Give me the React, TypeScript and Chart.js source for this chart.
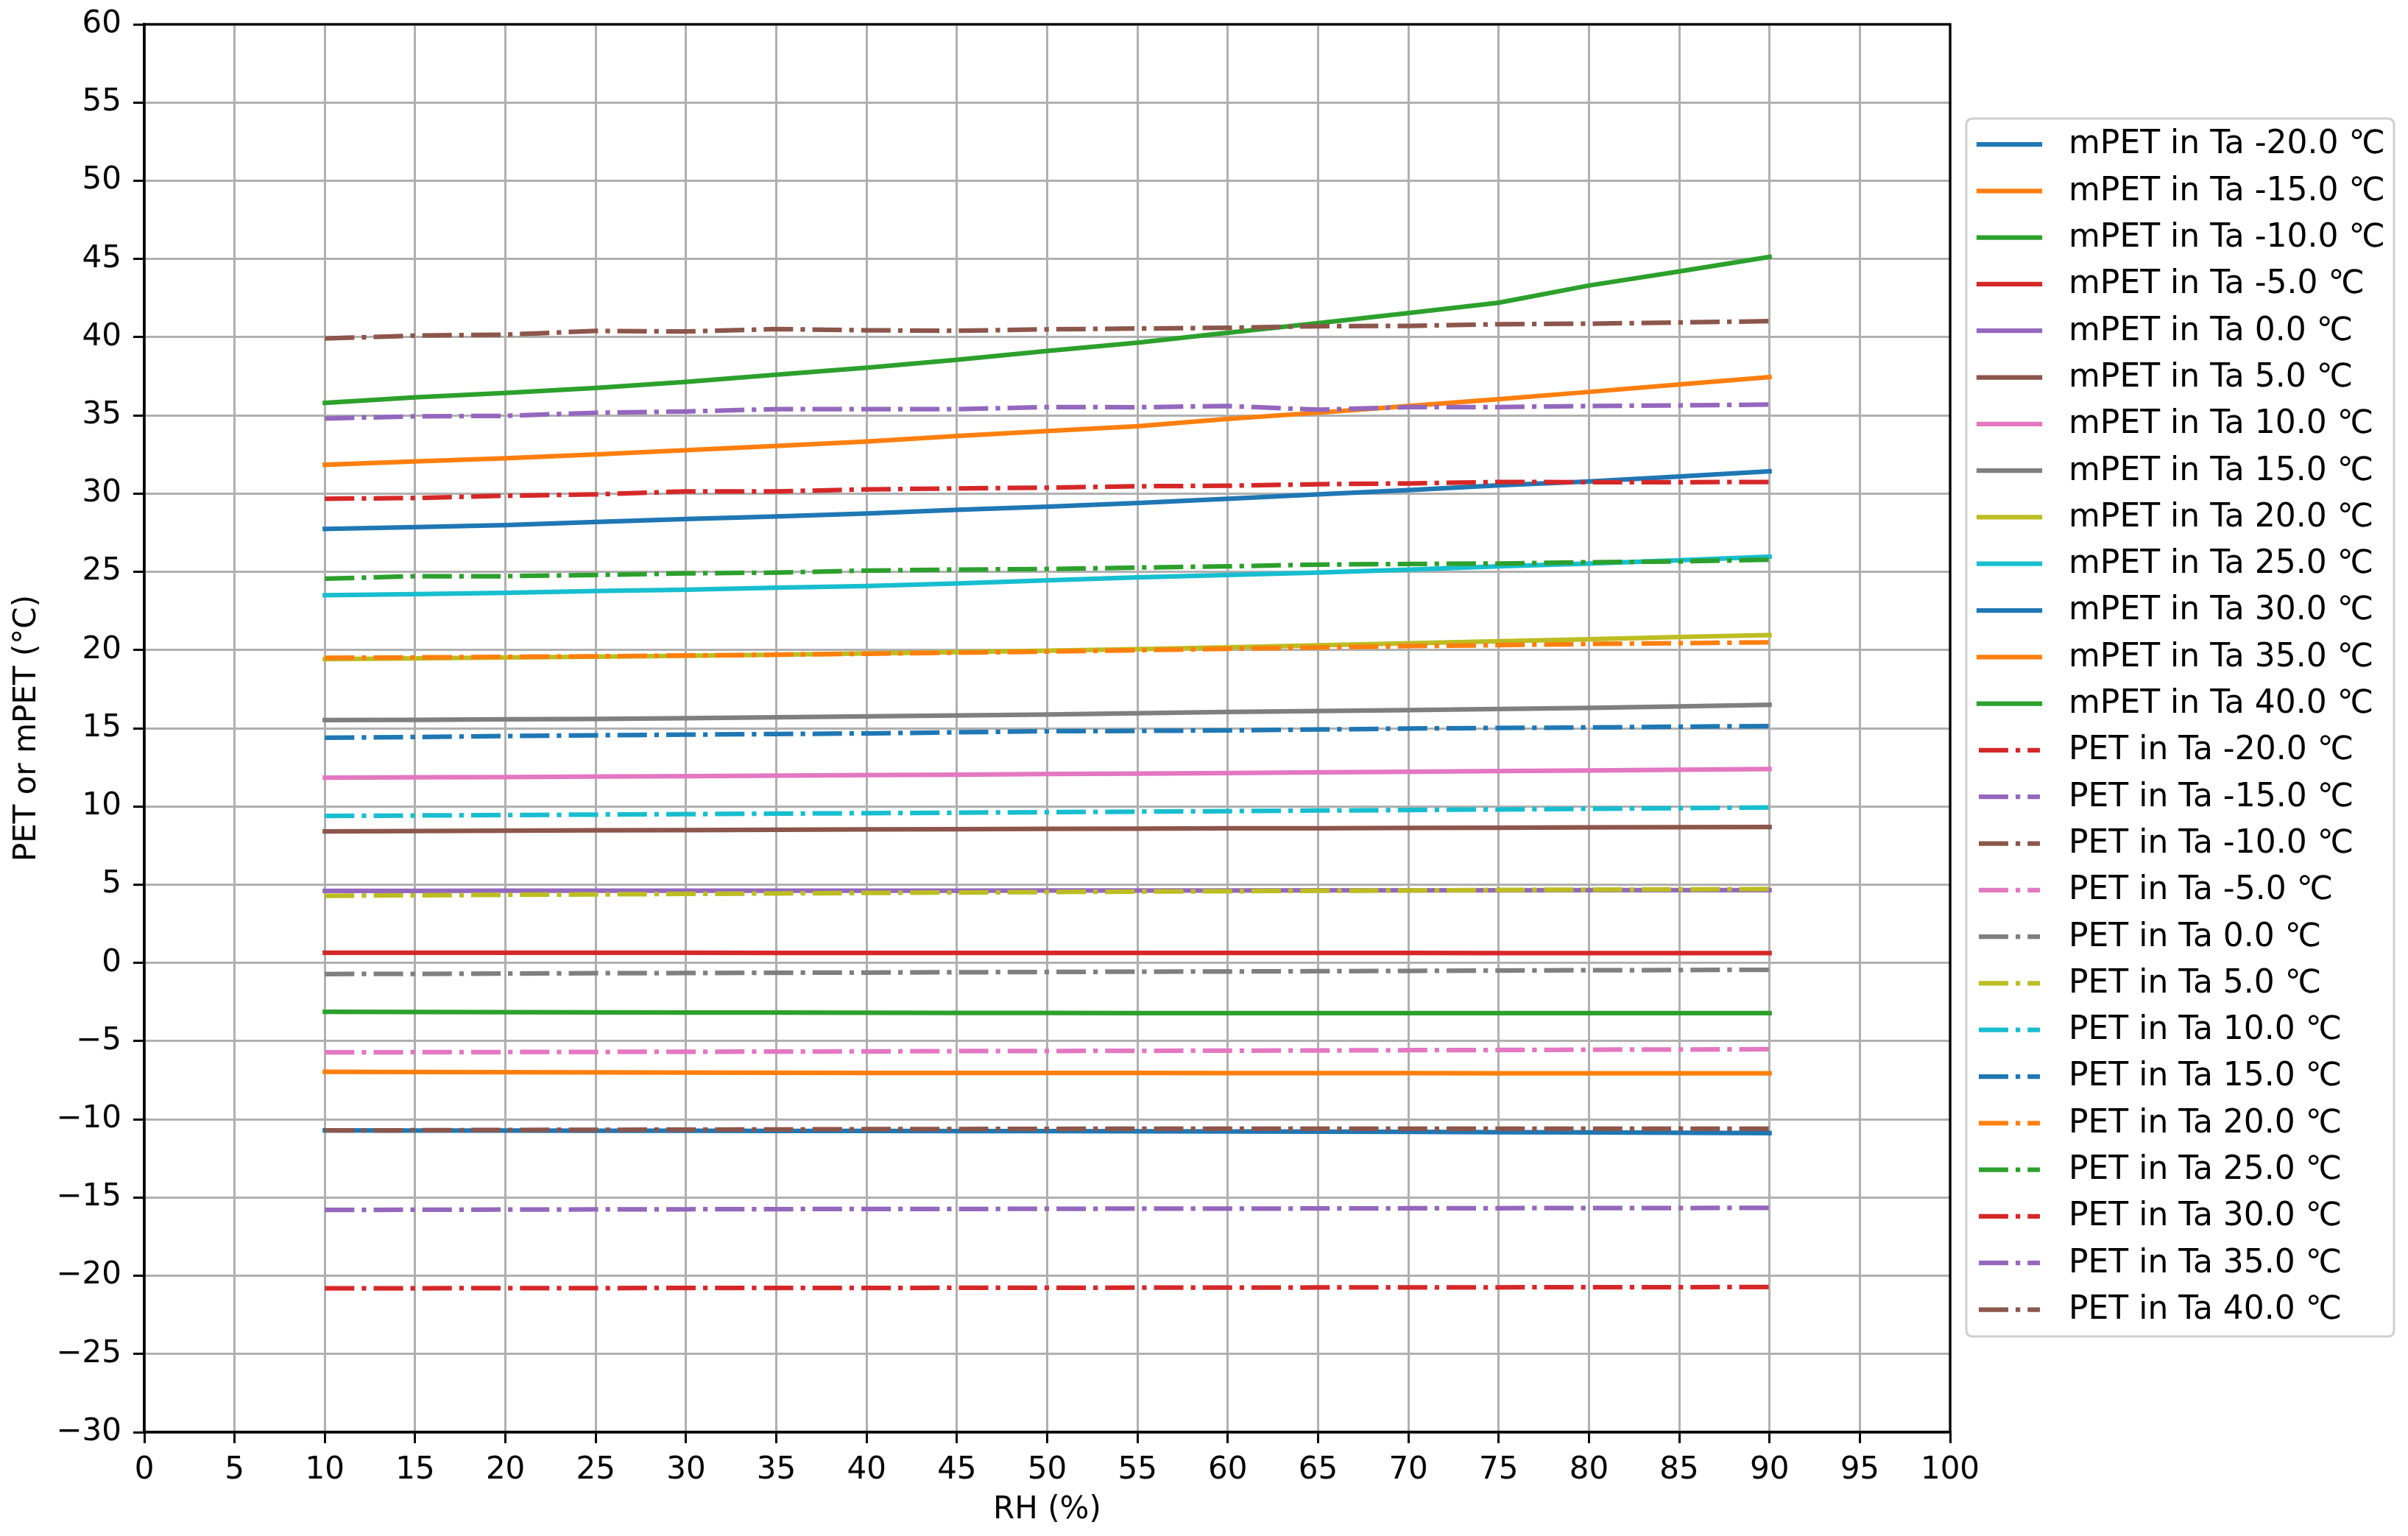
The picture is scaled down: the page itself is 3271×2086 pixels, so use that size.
import React, { useEffect, useRef } from "react";
import { Chart, registerables } from "chart.js";

Chart.register(...registerables);

// ---------- data ----------
const RH = [10, 15, 20, 25, 30, 35, 40, 45, 50, 55, 60, 65, 70, 75, 80, 85, 90];
const TA = [-20, -15, -10, -5, 0, 5, 10, 15, 20, 25, 30, 35, 40];
const X_TICKS = [0, 5, 10, 15, 20, 25, 30, 35, 40, 45, 50, 55, 60, 65, 70, 75, 80, 85, 90, 95, 100];
const Y_TICKS = [-30, -25, -20, -15, -10, -5, 0, 5, 10, 15, 20, 25, 30, 35, 40, 45, 50, 55, 60];

const MPET_M20 = [-10.71, -10.72, -10.72, -10.73, -10.73, -10.74, -10.74, -10.75, -10.75, -10.76, -10.78, -10.79, -10.8, -10.82, -10.84, -10.86, -10.88];
const MPET_M15 = [-6.97, -6.98, -6.99, -7.0, -7.01, -7.02, -7.03, -7.03, -7.04, -7.04, -7.05, -7.05, -7.05, -7.06, -7.06, -7.06, -7.06];
const MPET_M10 = [-3.13, -3.14, -3.15, -3.16, -3.17, -3.18, -3.19, -3.2, -3.2, -3.21, -3.21, -3.21, -3.21, -3.21, -3.21, -3.21, -3.21];
const MPET_M5 = [0.65, 0.65, 0.65, 0.65, 0.65, 0.64, 0.64, 0.64, 0.64, 0.64, 0.64, 0.64, 0.64, 0.63, 0.63, 0.63, 0.63];
const MPET_0 = [4.6, 4.6, 4.61, 4.61, 4.61, 4.62, 4.62, 4.62, 4.63, 4.63, 4.63, 4.64, 4.64, 4.64, 4.65, 4.65, 4.65];
const MPET_5 = [8.41, 8.43, 8.45, 8.47, 8.49, 8.51, 8.53, 8.55, 8.57, 8.58, 8.6, 8.61, 8.63, 8.64, 8.66, 8.67, 8.69];
const MPET_10 = [11.84, 11.86, 11.88, 11.91, 11.94, 11.97, 12.0, 12.03, 12.07, 12.1, 12.14, 12.18, 12.22, 12.26, 12.3, 12.35, 12.39];
const MPET_15 = [15.52, 15.54, 15.57, 15.6, 15.64, 15.7, 15.76, 15.82, 15.88, 15.96, 16.04, 16.1, 16.16, 16.23, 16.3, 16.4, 16.5];
const MPET_20 = [19.42, 19.47, 19.52, 19.57, 19.63, 19.7, 19.78, 19.87, 19.96, 20.06, 20.17, 20.3, 20.43, 20.56, 20.69, 20.83, 20.96];
const MPET_25 = [23.5, 23.57, 23.66, 23.77, 23.85, 23.98, 24.09, 24.25, 24.45, 24.64, 24.8, 24.95, 25.14, 25.35, 25.53, 25.74, 25.97];
const MPET_30 = [27.74, 27.86, 27.99, 28.18, 28.37, 28.54, 28.73, 28.96, 29.16, 29.4, 29.67, 29.95, 30.22, 30.53, 30.77, 31.09, 31.43];
const MPET_35 = [31.84, 32.06, 32.26, 32.5, 32.77, 33.05, 33.33, 33.68, 34.0, 34.3, 34.78, 35.17, 35.6, 36.04, 36.5, 36.98, 37.45];
const MPET_40 = [35.8, 36.15, 36.43, 36.75, 37.14, 37.6, 38.05, 38.55, 39.12, 39.65, 40.28, 40.9, 41.54, 42.2, 43.3, 44.2, 45.13];

const PET_M20 = [-20.8, -20.8, -20.79, -20.79, -20.78, -20.78, -20.78, -20.77, -20.77, -20.76, -20.76, -20.75, -20.75, -20.74, -20.73, -20.73, -20.72];
const PET_M15 = [-15.79, -15.78, -15.77, -15.76, -15.75, -15.74, -15.73, -15.73, -15.72, -15.71, -15.71, -15.7, -15.69, -15.68, -15.67, -15.67, -15.66];
const PET_M10 = [-10.71, -10.7, -10.68, -10.67, -10.66, -10.65, -10.63, -10.62, -10.61, -10.6, -10.6, -10.6, -10.6, -10.6, -10.6, -10.6, -10.6];
const PET_M5 = [-5.72, -5.71, -5.7, -5.69, -5.68, -5.67, -5.66, -5.64, -5.63, -5.62, -5.61, -5.6, -5.58, -5.57, -5.55, -5.54, -5.52];
const PET_0 = [-0.71, -0.7, -0.68, -0.66, -0.65, -0.63, -0.62, -0.6, -0.58, -0.56, -0.55, -0.53, -0.51, -0.49, -0.47, -0.46, -0.44];
const PET_5 = [4.29, 4.32, 4.35, 4.38, 4.41, 4.44, 4.47, 4.5, 4.53, 4.56, 4.58, 4.61, 4.63, 4.66, 4.68, 4.7, 4.72];
const PET_10 = [9.39, 9.42, 9.45, 9.48, 9.51, 9.54, 9.57, 9.6, 9.63, 9.67, 9.7, 9.74, 9.77, 9.81, 9.85, 9.89, 9.94];
const PET_15 = [14.39, 14.44, 14.5, 14.55, 14.59, 14.63, 14.67, 14.74, 14.81, 14.83, 14.86, 14.92, 14.98, 15.02, 15.05, 15.1, 15.14];
const PET_20 = [19.5, 19.53, 19.56, 19.6, 19.65, 19.7, 19.76, 19.83, 19.9, 19.99, 20.08, 20.16, 20.25, 20.31, 20.39, 20.44, 20.49];
const PET_25 = [24.56, 24.72, 24.72, 24.8, 24.9, 24.95, 25.08, 25.14, 25.18, 25.27, 25.35, 25.46, 25.5, 25.53, 25.61, 25.66, 25.77];
const PET_30 = [29.67, 29.72, 29.86, 29.95, 30.14, 30.14, 30.27, 30.33, 30.38, 30.47, 30.5, 30.6, 30.65, 30.74, 30.73, 30.73, 30.74];
const PET_35 = [34.8, 34.94, 34.97, 35.17, 35.25, 35.4, 35.4, 35.4, 35.53, 35.52, 35.6, 35.36, 35.53, 35.53, 35.6, 35.64, 35.69];
const PET_40 = [39.92, 40.1, 40.16, 40.4, 40.36, 40.52, 40.44, 40.41, 40.5, 40.55, 40.6, 40.7, 40.72, 40.83, 40.86, 40.94, 41.02];

const MPET_SERIES = [MPET_M20, MPET_M15, MPET_M10, MPET_M5, MPET_0, MPET_5, MPET_10, MPET_15, MPET_20, MPET_25, MPET_30, MPET_35, MPET_40];
const PET_SERIES = [PET_M20, PET_M15, PET_M10, PET_M5, PET_0, PET_5, PET_10, PET_15, PET_20, PET_25, PET_30, PET_35, PET_40];

const TAB10 = ["#1f77b4", "#ff7f0e", "#2ca02c", "#d62728", "#9467bd", "#8c564b", "#e377c2", "#7f7f7f", "#bcbd22", "#17becf"];

// ---------- style ----------
const FONT = "DejaVu Sans";
const FS = 42;
const LEGEND_FS = 44;
const LW = 6.25;
const DASHDOT = [40, 10, 6.25, 10];

const fmt = (v: number) => (v < 0 ? "\u2212" + Math.abs(v) : String(v));

const frameLegendPlugin = {
  id: "frameLegend",
  afterDraw(chart: any) {
    const { ctx, chartArea } = chart;
    ctx.save();
    // spines on all four sides
    ctx.setLineDash([]);
    ctx.strokeStyle = "#000";
    ctx.lineWidth = 3.3;
    ctx.strokeRect(chartArea.left, chartArea.top, chartArea.right - chartArea.left, chartArea.bottom - chartArea.top);

    // legend box
    const L = 2671, T = 161, R = 3252, B = 1815, r = 9;
    ctx.beginPath();
    ctx.moveTo(L + r, T);
    ctx.lineTo(R - r, T);
    ctx.quadraticCurveTo(R, T, R, T + r);
    ctx.lineTo(R, B - r);
    ctx.quadraticCurveTo(R, B, R - r, B);
    ctx.lineTo(L + r, B);
    ctx.quadraticCurveTo(L, B, L, B - r);
    ctx.lineTo(L, T + r);
    ctx.quadraticCurveTo(L, T, L + r, T);
    ctx.closePath();
    ctx.fillStyle = "rgba(255,255,255,0.8)";
    ctx.fill();
    ctx.strokeStyle = "#d0d0d0";
    ctx.lineWidth = 3;
    ctx.stroke();

    const rowY0 = 196;
    const pitch = 63.3;
    chart.data.datasets.forEach((ds: any, i: number) => {
      const y = rowY0 + i * pitch;
      ctx.beginPath();
      ctx.setLineDash(ds.borderDash || []);
      ctx.lineCap = ds.borderCapStyle || "butt";
      ctx.strokeStyle = ds.borderColor;
      ctx.lineWidth = ds.borderWidth;
      ctx.moveTo(2688, y);
      ctx.lineTo(2771, y);
      ctx.stroke();
      ctx.setLineDash([]);
      ctx.fillStyle = "#000";
      ctx.font = `${LEGEND_FS}px "${FONT}"`;
      ctx.textAlign = "left";
      ctx.textBaseline = "middle";
      ctx.fillText(ds.label, 2810, y + 1);
    });
    ctx.restore();
  },
};

export default function App() {
  const ref = useRef<HTMLCanvasElement | null>(null);

  useEffect(() => {
    document.body.style.margin = "0";
    const canvas = ref.current;
    if (!canvas) return;

    const datasets: any[] = [];
    const N = TA.length * 2;
    TA.forEach((ta, i) => {
      datasets.push({
        label: `mPET in Ta ${ta.toFixed(1)} \u2103`,
        data: RH.map((x, k) => ({ x, y: MPET_SERIES[i][k] })),
        borderColor: TAB10[i % 10],
        backgroundColor: TAB10[i % 10],
        borderWidth: LW,
        borderDash: [],
        borderCapStyle: "square",
        borderJoinStyle: "round",
        pointRadius: 0,
        tension: 0,
        fill: false,
        order: N - 1 - i,
      });
    });
    TA.forEach((ta, i) => {
      const j = i + TA.length;
      datasets.push({
        label: `PET in Ta ${ta.toFixed(1)} \u2103`,
        data: RH.map((x, k) => ({ x, y: PET_SERIES[i][k] })),
        borderColor: TAB10[j % 10],
        backgroundColor: TAB10[j % 10],
        borderWidth: LW,
        borderDash: DASHDOT,
        borderCapStyle: "butt",
        borderJoinStyle: "round",
        pointRadius: 0,
        tension: 0,
        fill: false,
        order: N - 1 - j,
      });
    });

    const tickFont = { family: FONT, size: FS };

    const chart = new Chart(canvas, {
      type: "line",
      data: { datasets },
      options: {
        responsive: false,
        animation: false,
        devicePixelRatio: 1,
        layout: { padding: { left: 0, top: 33, right: 622, bottom: 0 } },
        plugins: {
          legend: { display: false },
          tooltip: { enabled: false },
          title: { display: false },
        },
        scales: {
          x: {
            type: "linear",
            min: 0,
            max: 100,
            afterFit: (s: any) => {
              s.height = 141;
              s.paddingLeft = 0;
              s.paddingRight = 0;
            },
            afterBuildTicks: (s: any) => {
              s.ticks = X_TICKS.map((v) => ({ value: v }));
            },
            ticks: {
              color: "#000",
              font: tickFont,
              padding: 12,
              maxRotation: 0,
              autoSkip: false,
              callback: (v: any) => fmt(Number(v)),
            },
            grid: {
              color: "#b0b0b0",
              lineWidth: 3,
              drawTicks: true,
              tickLength: 15,
              tickColor: "#000",
              tickWidth: 3,
            },
            border: { display: true, color: "#000", width: 3.3 },
            title: {
              display: true,
              text: "RH (%)",
              color: "#000",
              font: { family: FONT, size: FS },
              padding: { top: 0, bottom: 10 },
            },
          },
          y: {
            type: "linear",
            min: -30,
            max: 60,
            afterFit: (s: any) => {
              s.width = 196;
              s.paddingTop = 0;
              s.paddingBottom = 0;
            },
            afterBuildTicks: (s: any) => {
              s.ticks = Y_TICKS.map((v) => ({ value: v }));
            },
            ticks: {
              color: "#000",
              font: tickFont,
              padding: 16,
              autoSkip: false,
              callback: (v: any) => fmt(Number(v)),
            },
            grid: {
              color: "#b0b0b0",
              lineWidth: 3,
              drawTicks: true,
              tickLength: 15,
              tickColor: "#000",
              tickWidth: 3,
            },
            border: { display: true, color: "#000", width: 3.3 },
            title: {
              display: true,
              text: "PET or mPET (\u00b0C)",
              color: "#000",
              font: { family: FONT, size: FS },
              padding: { top: 12, bottom: 0 },
            },
          },
        },
      },
      plugins: [frameLegendPlugin],
    } as any);

    return () => chart.destroy();
  }, []);

  return (
    <div style={{ width: 3271, height: 2086, background: "#fff" }}>
      <canvas ref={ref} width={3271} height={2086} style={{ display: "block", width: 3271, height: 2086 }} />
    </div>
  );
}
